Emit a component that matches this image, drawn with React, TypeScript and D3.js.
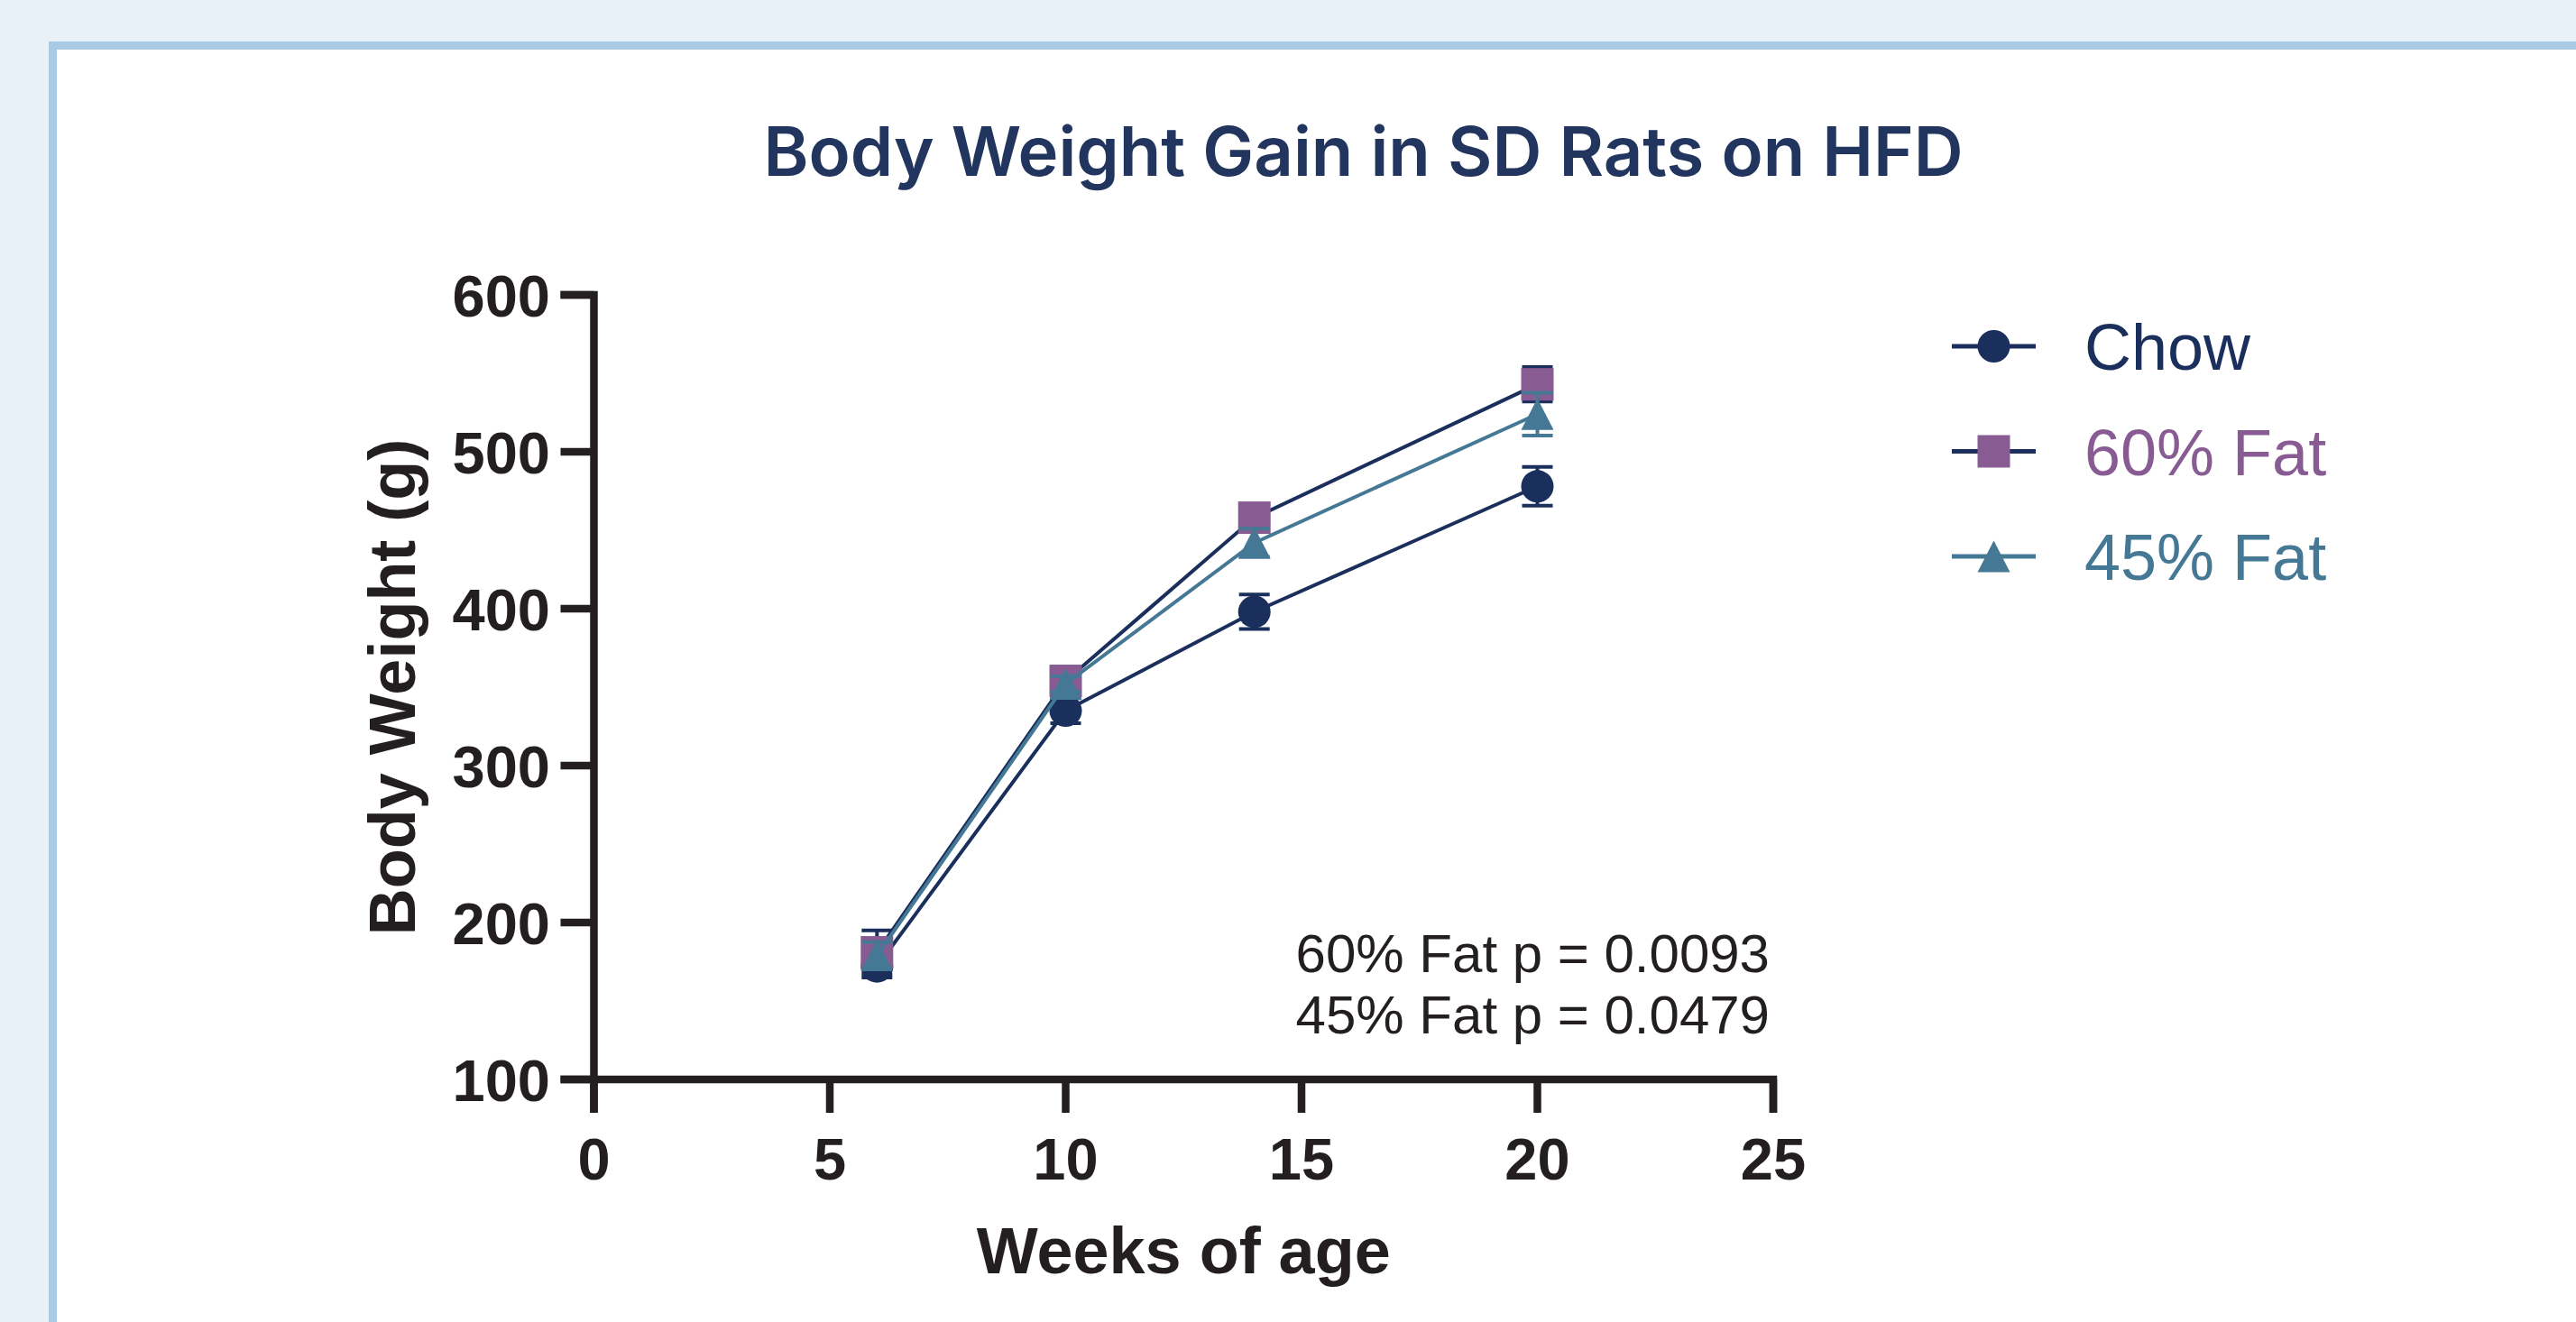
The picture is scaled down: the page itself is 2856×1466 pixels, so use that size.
import React, { useEffect } from "react";
import * as d3 from "d3";

const weeks = [6, 10, 14, 20];
const seriesNames = ["Chow", "60% Fat", "45% Fat"];
const chowMean = [172, 335, 398, 478];
const chowSem = [7, 8, 11, 12.4];
const fat60Mean = [181, 354, 458, 543];
const fat60Sem = [14, 5, 6, 11];
const fat45Mean = [179, 352, 442, 524];
const fat45Sem = [8.5, 5, 9, 13.7];
const xTicks = [0, 5, 10, 15, 20, 25];
const yTicks = [100, 200, 300, 400, 500, 600];
const pTexts = ["60% Fat p = 0.0093", "45% Fat p = 0.0479"];

const NAVY = "#1A2F5B";
const PURPLE = "#885C93";
const TEAL = "#457895";
const INK = "#231F20";

export default function App() {
  useEffect(() => {
    document.body.style.margin = "0";
    document.body.style.overflow = "hidden";
  }, []);

  const W = 2856;
  const H = 1466;
  const x = d3.scaleLinear().domain([0, 25]).range([658.5, 1966]);
  const y = d3.scaleLinear().domain([100, 600]).range([1197, 327]);
  const tickLen = 37;
  const axisW = 8.5;
  const lineGen = d3
    .line<[number, number]>()
    .x((d) => x(d[0]))
    .y((d) => y(d[1]));

  const series = [
    { name: seriesNames[0], mean: chowMean, sem: chowSem, line: NAVY, fill: NAVY, shape: "circle" },
    { name: seriesNames[1], mean: fat60Mean, sem: fat60Sem, line: NAVY, fill: PURPLE, shape: "square" },
    { name: seriesNames[2], mean: fat45Mean, sem: fat45Sem, line: TEAL, fill: TEAL, shape: "triangle" },
  ];
  const textColors = [NAVY, PURPLE, TEAL];

  const ms = 36;
  const marker = (shape: string, cx: number, cy: number, fill: string, key?: string) => {
    if (shape === "circle") return <circle key={key} cx={cx} cy={cy} r={ms / 2} fill={fill} />;
    if (shape === "square")
      return <rect key={key} x={cx - ms / 2} y={cy - ms / 2} width={ms} height={ms} fill={fill} />;
    const h = 35;
    return (
      <path
        key={key}
        d={`M${cx},${cy - h / 2}L${cx + ms / 2},${cy + h / 2}L${cx - ms / 2},${cy + h / 2}Z`}
        fill={fill}
      />
    );
  };

  const font = "'Liberation Sans', Arial, Helvetica, sans-serif";
  const capW = 34;

  return (
    <svg width={W} height={H} style={{ position: "absolute", left: 0, top: 0, display: "block" }}>
      <rect x={0} y={0} width={W} height={H} fill="#E8F0F8" />
      <rect x={54} y={46} width={W} height={H} fill="#A8CAE4" />
      <rect x={63} y={55} width={W} height={H} fill="#FFFFFF" />

      <text
        x={1511.5}
        y={195}
        textAnchor="middle"
        fontFamily="Inter, 'Open Sans', sans-serif"
        fontWeight={600}
        fontSize={76}
        fill="#21355F"
      >
        Body Weight Gain in SD Rats on HFD
      </text>

      {/* axes */}
      <path
        d={`M${x(0) - tickLen},${y(600)}H${x(0)}V${y(100) + tickLen}`}
        fill="none"
        stroke={INK}
        strokeWidth={axisW}
        strokeLinejoin="miter"
      />
      <path
        d={`M${x(0) - tickLen},${y(100)}H${x(25)}V${y(100) + tickLen}`}
        fill="none"
        stroke={INK}
        strokeWidth={axisW}
        strokeLinejoin="miter"
      />
      {yTicks.map((t) => (
        <g key={"yt" + t}>
          <line x1={x(0) - tickLen} x2={x(0)} y1={y(t)} y2={y(t)} stroke={INK} strokeWidth={axisW} />
          <text
            x={610}
            y={y(t) + 24}
            textAnchor="end"
            fontFamily={font}
            fontWeight={700}
            fontSize={65}
            fill={INK}
          >
            {t}
          </text>
        </g>
      ))}
      {xTicks.map((t) => (
        <g key={"xt" + t}>
          <line x1={x(t)} x2={x(t)} y1={y(100)} y2={y(100) + tickLen} stroke={INK} strokeWidth={axisW} />
          <text
            x={x(t)}
            y={1308}
            textAnchor="middle"
            fontFamily={font}
            fontWeight={700}
            fontSize={65}
            fill={INK}
          >
            {t}
          </text>
        </g>
      ))}

      <text
        transform={`translate(460, 762) rotate(-90)`}
        textAnchor="middle"
        fontFamily={font}
        fontWeight={700}
        fontSize={72}
        fill={INK}
      >
        Body Weight (g)
      </text>
      <text
        x={(x(0) + x(25)) / 2}
        y={1412}
        textAnchor="middle"
        fontFamily={font}
        fontWeight={700}
        fontSize={72}
        fill={INK}
      >
        Weeks of age
      </text>

      {/* series */}
      {series.map((s, si) => (
        <g key={"s" + si}>
          <path
            d={lineGen(weeks.map((w, i) => [w, s.mean[i]]) as [number, number][]) || ""}
            fill="none"
            stroke={s.line}
            strokeWidth={4}
          />
          {weeks.map((w, i) => (
            <g key={"e" + i} stroke={s.line} strokeWidth={4}>
              <line x1={x(w)} x2={x(w)} y1={y(s.mean[i] - s.sem[i])} y2={y(s.mean[i] + s.sem[i])} />
              <line
                x1={x(w) - capW / 2}
                x2={x(w) + capW / 2}
                y1={y(s.mean[i] + s.sem[i])}
                y2={y(s.mean[i] + s.sem[i])}
              />
              <line
                x1={x(w) - capW / 2}
                x2={x(w) + capW / 2}
                y1={y(s.mean[i] - s.sem[i])}
                y2={y(s.mean[i] - s.sem[i])}
              />
            </g>
          ))}
          {weeks.map((w, i) => marker(s.shape, x(w), y(s.mean[i]), s.fill, "m" + i))}
        </g>
      ))}

      {/* p values */}
      {pTexts.map((t, i) => (
        <text
          key={"p" + i}
          x={1962}
          y={1078 + i * 68}
          textAnchor="end"
          fontFamily={font}
          fontSize={60}
          fill={INK}
        >
          {t}
        </text>
      ))}

      {/* legend */}
      {series.map((s, i) => {
        const cy = 384 + i * 116.5;
        return (
          <g key={"lg" + i}>
            <line x1={2164} x2={2257} y1={cy} y2={cy} stroke={s.line} strokeWidth={5} />
            {marker(s.shape, 2210.5, cy, s.fill)}
            <text x={2311} y={cy + 26} fontFamily={font} fontSize={72} fill={textColors[i]}>
              {s.name}
            </text>
          </g>
        );
      })}
    </svg>
  );
}
